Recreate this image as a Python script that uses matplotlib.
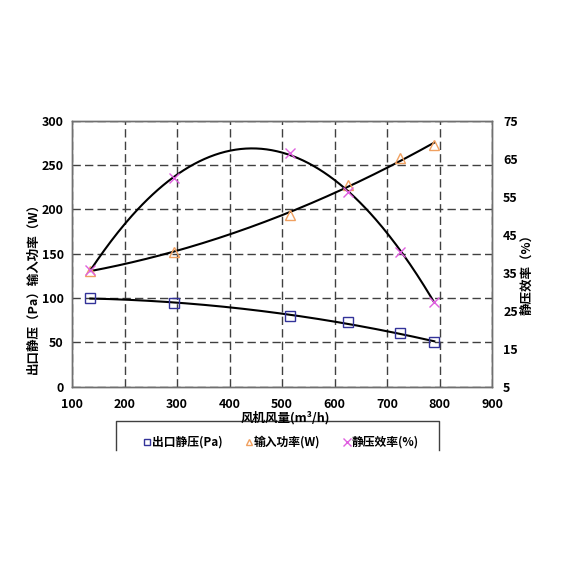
import numpy as np
import matplotlib
matplotlib.use("Agg")
import matplotlib.pyplot as plt
from matplotlib.lines import Line2D

plt.rcParams['font.family'] = ['Noto Sans CJK SC', 'DejaVu Sans']

# Data
flow = [135, 295, 515, 625, 725, 790]          # 风机风量 m3/h
pressure = [100, 94, 80, 73, 60, 50]          # 出口静压 Pa
power = [131, 152, 194, 228, 258, 272]        # 输入功率 W
efficiency = [35.7, 60, 66.5, 56.3, 40.5, 27.4]  # 静压效率 %

x_ticks = [100, 200, 300, 400, 500, 600, 700, 800, 900]
y_ticks = [0, 50, 100, 150, 200, 250, 300]
y2_ticks = [5, 15, 25, 35, 45, 55, 65, 75]

sq_color = '#333399'
tri_color = '#F0A060'
x_color = '#E060E0'

fig = plt.figure(figsize=(5.7, 5.7), dpi=100)
ax = fig.add_axes([0.1263, 0.3216, 0.737, 0.4667])
ax2 = ax.twinx()

ax.set_xlim(100, 900)
ax.set_ylim(0, 300)
ax2.set_ylim(5, 75)
ax.set_xticks(x_ticks)
ax.set_yticks(y_ticks)
ax2.set_yticks(y2_ticks)

for a in (ax, ax2):
    for s in a.spines.values():
        s.set_color('#707070')
        s.set_linewidth(1.0)
    a.tick_params(length=0, labelsize=9)
    for lab in a.get_xticklabels() + a.get_yticklabels():
        lab.set_fontweight('bold')
ax.tick_params(axis='x', pad=8)
ax.tick_params(axis='y', pad=6)
ax2.tick_params(axis='y', pad=8)

ax.grid(True, color='#404040', linestyle=(0, (6, 3)), linewidth=1.0)
ax.set_axisbelow(True)

xs = np.linspace(min(flow), max(flow), 200)
fx = np.array(flow, dtype=float)
p1 = np.polyfit(fx, pressure, 2)
p2 = np.polyfit(fx, power, 2)
p3 = np.polyfit(fx, efficiency, 3)
ax.plot(xs, np.polyval(p1, xs), color='black', lw=1.5, zorder=3)
ax.plot(xs, np.polyval(p2, xs), color='black', lw=1.5, zorder=3)
ax2.plot(xs, np.polyval(p3, xs), color='black', lw=1.5, zorder=3)

ax.plot(flow, pressure, linestyle='none', marker='s', ms=7, mfc='none',
        mec=sq_color, mew=1.0, zorder=4)
ax.plot(flow, power, linestyle='none', marker='^', ms=7, mfc='none',
        mec=tri_color, mew=1.0, zorder=4)
ax2.plot(flow, efficiency, linestyle='none', marker='x', ms=7,
         color=x_color, mew=1.0, zorder=4)

# Axis labels
fig.text(285 / 570, 1 - 418 / 570, '风机风量(m³/h)', ha='center', va='center',
         fontsize=9, fontweight='bold')
fig.text(33 / 570, 1 - 285 / 570, '出口静压（Pa）输入功率（W）', rotation=90,
         ha='center', va='center', fontsize=9, fontweight='bold')
fig.text(527 / 570, 1 - 272 / 570, '静压效率（%）', rotation=90,
         ha='center', va='center', fontsize=9, fontweight='bold')

# Legend box (bottom edge cut off)
L, R, T, B = 115.7 / 570, 439 / 570, 1 - 421 / 570, 1 - 450 / 570
fig.add_artist(Line2D([L, L, R, R], [B, T, T, B], transform=fig.transFigure,
                      color='#404040', lw=1.0))
ly = 1 - 442 / 570
entries = [
    (146.7, 's', sq_color, '出口静压(Pa)'),
    (249, '^', tri_color, '输入功率(W)'),
    (346.7, 'x', x_color, '静压效率(%)'),
]
for px, mk, col, txt in entries:
    if mk == 'x':
        fig.add_artist(Line2D([px / 570], [ly], transform=fig.transFigure,
                              marker=mk, ms=6, color=col, mew=1.0, linestyle='none'))
    else:
        fig.add_artist(Line2D([px / 570], [ly], transform=fig.transFigure,
                              marker=mk, ms=5, mfc='none', mec=col, mew=1.0,
                              linestyle='none'))
    fig.text((px + 5) / 570, ly, txt, ha='left', va='center', fontsize=8.5,
             fontweight='bold')

fig.savefig('out.png', dpi=100, facecolor='white')
